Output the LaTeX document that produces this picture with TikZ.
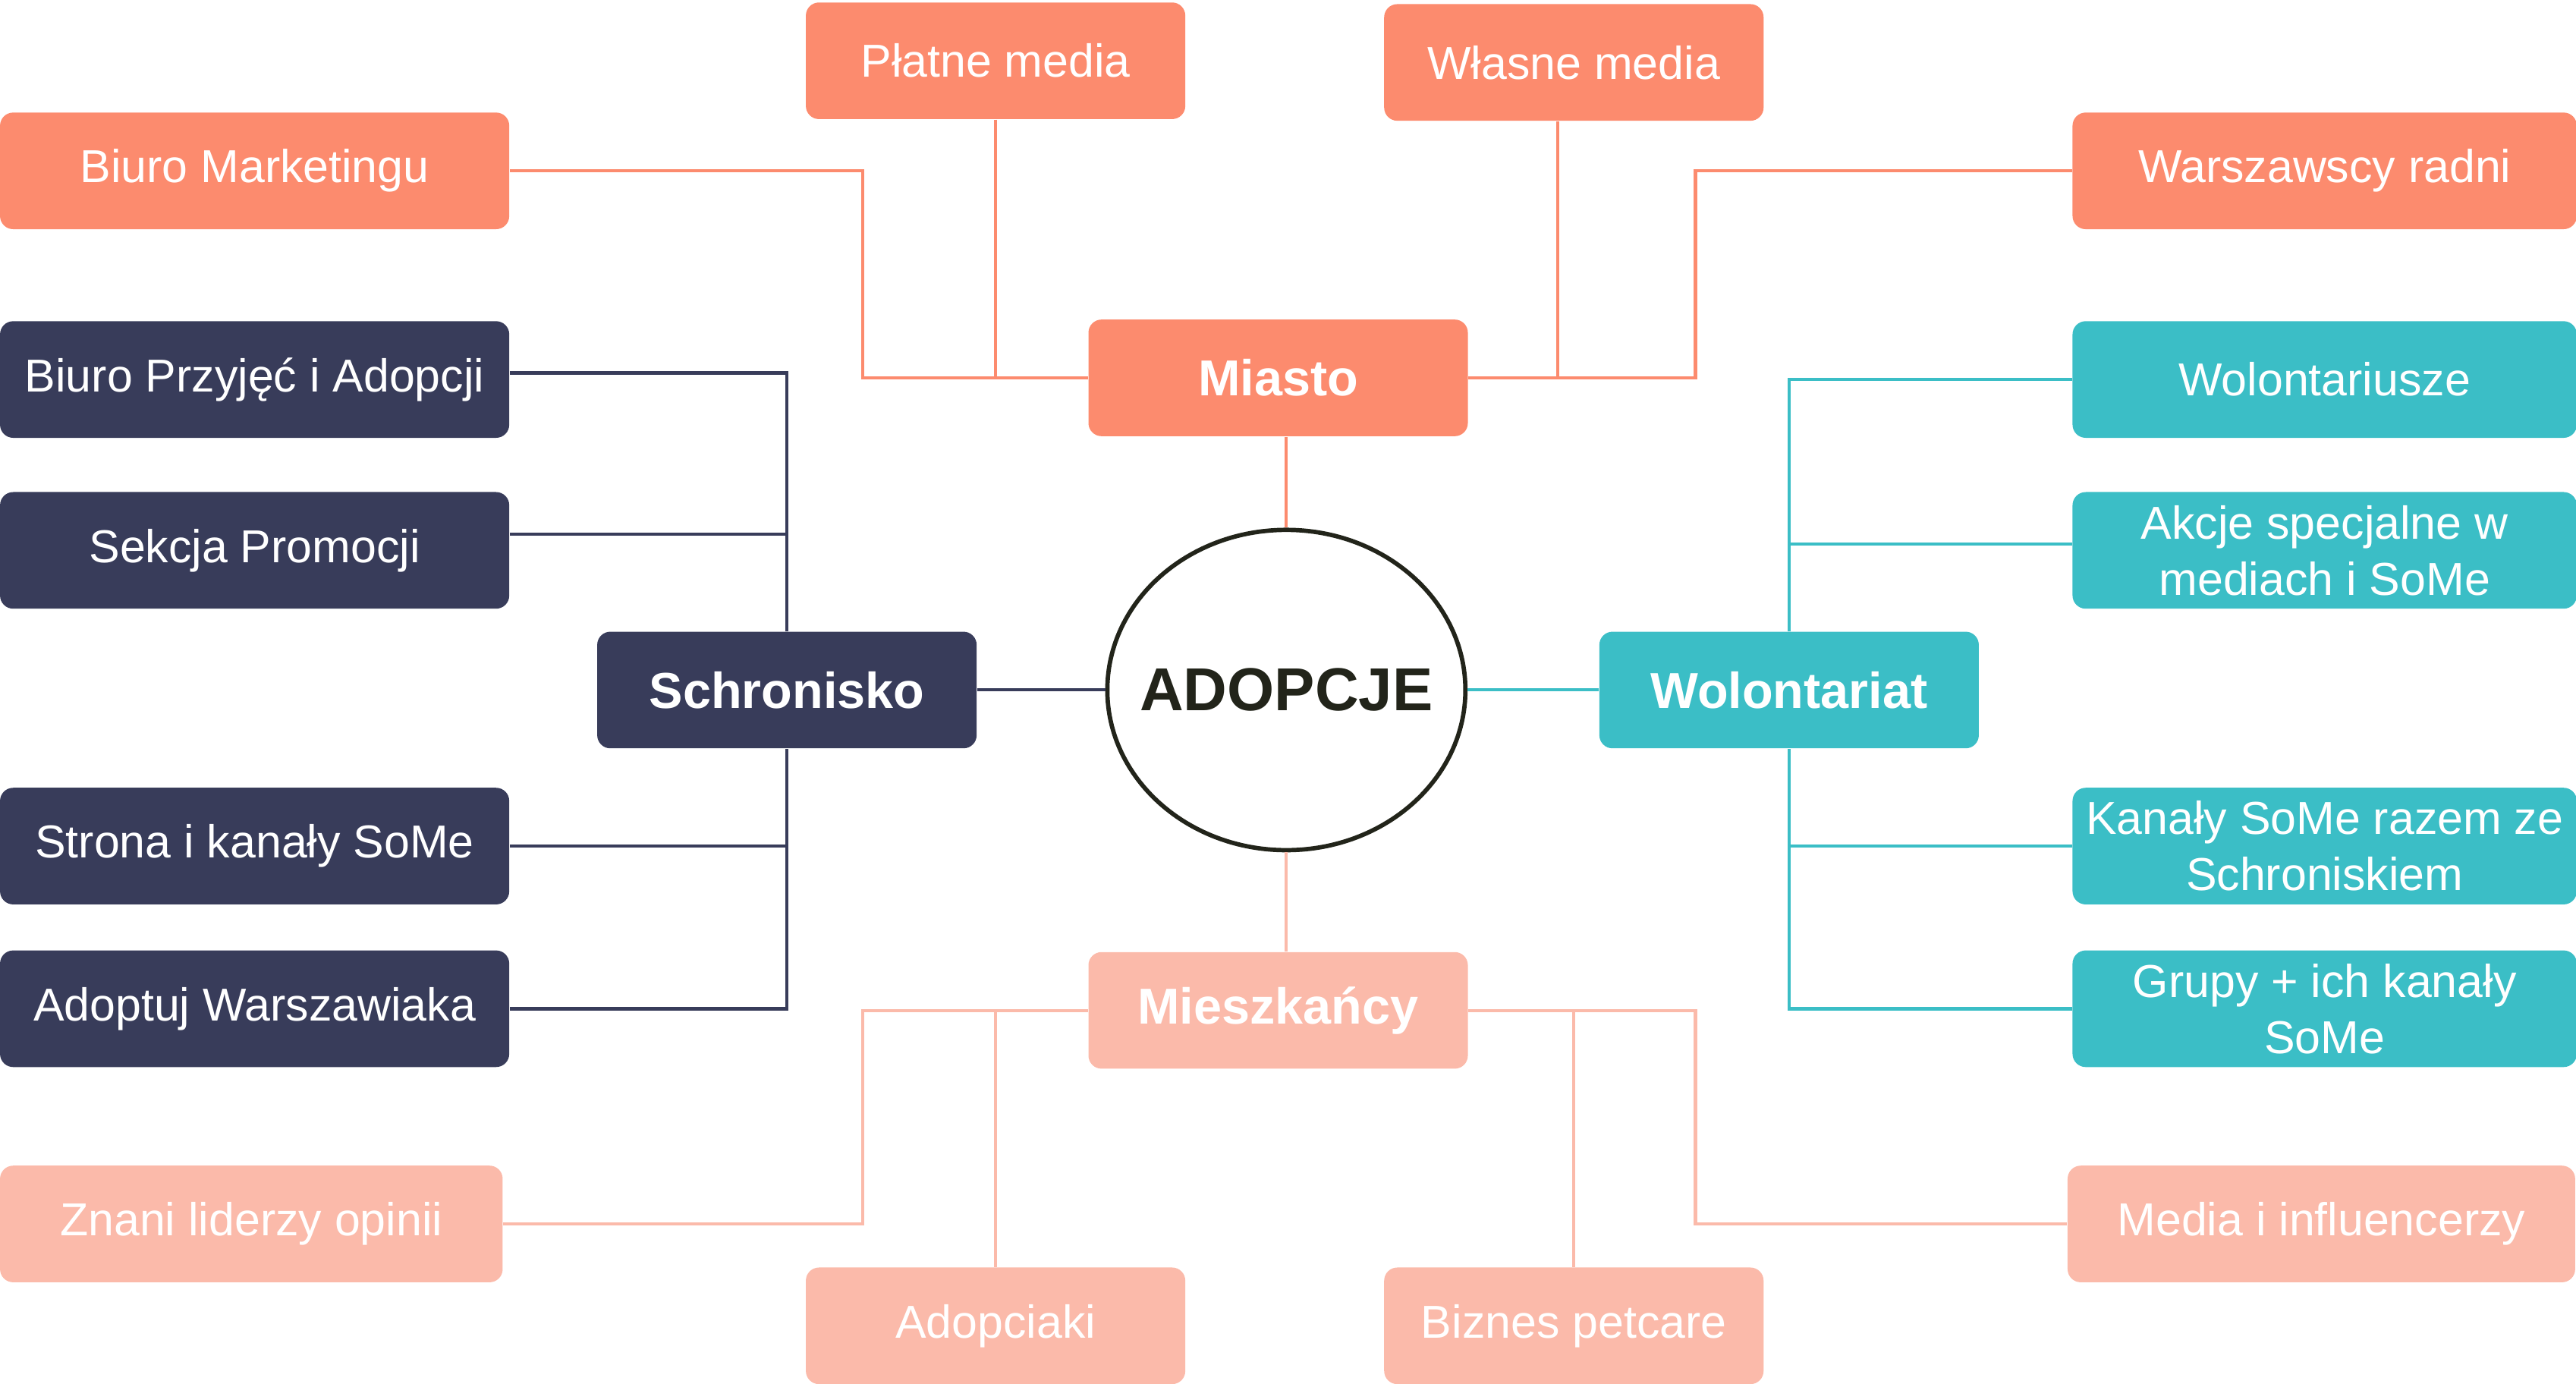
\documentclass[tikz,border=0pt]{standalone}
\usepackage{fontspec}
\setmainfont{Liberation Sans}
\usetikzlibrary{shapes.geometric}
\definecolor{miastoc}{HTML}{FC8B6E}
\definecolor{schronc}{HTML}{383C5A}
\definecolor{wolc}{HTML}{3BBEC6}
\definecolor{mieszc}{HTML}{FBBAAA}
\definecolor{adopc}{HTML}{22241A}
\begin{document}
\begin{tikzpicture}[x=0.02cm, y=-0.02cm,
    box/.style={rectangle, rounded corners=0.16cm, text=white, align=center,
      inner sep=0pt, minimum height=1.42cm, font=\fontsize{16}{19.5}\selectfont},
    smallbox/.style={box, minimum width=4.62cm},
    sidebox/.style={box, minimum width=6.2cm},
    rightbox/.style={box, minimum width=6.14cm},
    hub/.style={smallbox, font=\fontsize{17.5}{21}\selectfont\bfseries},
    link/.style={line width=1.1pt}]
    \useasboundingbox (0,0) rectangle (1568,842);
    % centre
    \node[ellipse, draw=adopc, line width=1.5pt, fill=white, inner sep=0pt,
      minimum width=4.36cm, minimum height=3.9cm, text=adopc,
      font=\fontsize{21}{24}\selectfont\bfseries] (adop) at (783,420) {\makebox[0pt]{ADOPCJE}};
    % Miasto
    \node[smallbox, fill=miastoc] (pm) at (606,37) {Płatne media};
    \node[smallbox, fill=miastoc] (wm) at (958,38) {Własne media};
    \node[sidebox, fill=miastoc] (bm) at (155,104) {Biuro Marketingu};
    \node[rightbox, fill=miastoc] (wr) at (1415,104) {Warszawscy radni};
    \node[hub, fill=miastoc] (miasto) at (778,230) {Miasto};
    % Schronisko
    \node[sidebox, fill=schronc] (bpa) at (155,231) {Biuro Przyjęć i Adopcji};
    \node[sidebox, fill=schronc] (sp) at (155,335) {Sekcja Promocji};
    \node[hub, fill=schronc] (schr) at (479,420) {Schronisko};
    \node[sidebox, fill=schronc] (sk) at (155,515) {Strona i kanały SoMe};
    \node[sidebox, fill=schronc] (aw) at (155,614) {Adoptuj Warszawiaka};
    % Wolontariat
    \node[rightbox, fill=wolc] (wz) at (1415,231) {Wolontariusze};
    \node[rightbox, fill=wolc] (akcje) at (1415,335) {Akcje specjalne w\\mediach i SoMe};
    \node[hub, fill=wolc] (wol) at (1089,420) {Wolontariat};
    \node[rightbox, fill=wolc] (kanaly) at (1415,515) {Kanały SoMe razem ze\\Schroniskiem};
    \node[rightbox, fill=wolc] (grupy) at (1415,614) {Grupy + ich kanały\\SoMe};
    % Mieszkancy
    \node[hub, fill=mieszc] (miesz) at (778,615) {Mieszkańcy};
    \node[sidebox, fill=mieszc, minimum width=6.12cm] (zl) at (153,745) {Znani liderzy opinii};
    \node[rightbox, fill=mieszc, minimum width=6.18cm] (mi) at (1413,745) {Media i influencerzy};
    \node[smallbox, fill=mieszc] (adk) at (606,807) {Adopciaki};
    \node[smallbox, fill=mieszc] (bp) at (958,807) {Biznes petcare};

    \coordinate (mL) at (525,230);
    \coordinate (mR) at (1032,230);
    \coordinate (lL) at (525,615);
    \coordinate (lR) at (1032,615);

    \draw[link, miastoc] (bm.east) -| (mL) -- (miasto.west);
    \draw[link, miastoc] (pm.south) -- (pm.south |- miasto.west);
    \draw[link, miastoc] ([xshift=-0.2cm]wm.south) -- ([xshift=-0.2cm]wm.south |- miasto.east);
    \draw[link, miastoc] (wr.west) -| (mR) -- (miasto.east);
    \draw[link, miastoc] (adop.north) -- (adop.north |- miasto.south);

    \draw[link, schronc] ([yshift=0.08cm]bpa.east) -| (schr.north);
    \draw[link, schronc] ([yshift=0.2cm]sp.east) -| (schr.north);
    \draw[link, schronc] (sk.east) -| (schr.south);
    \draw[link, schronc] (aw.east) -| (schr.south);
    \draw[link, schronc] (schr) -- (adop);

    \draw[link, wolc] (wz.west) -| (wol.north);
    \draw[link, wolc] ([yshift=0.08cm]akcje.west) -| (wol.north);
    \draw[link, wolc] (kanaly.west) -| (wol.south);
    \draw[link, wolc] (grupy.west) -| (wol.south);
    \draw[link, wolc] (wol) -- (adop);

    \draw[link, mieszc] (zl.east) -| (lL) -- (miesz.west);
    \draw[link, mieszc] (adk.north) -- (adk.north |- miesz.west);
    \draw[link, mieszc] (bp.north) -- (bp.north |- miesz.east);
    \draw[link, mieszc] (mi.west) -| (lR) -- (miesz.east);
    \draw[link, mieszc] (adop.south) -- (adop.south |- miesz.north);
\end{tikzpicture}
\end{document}
